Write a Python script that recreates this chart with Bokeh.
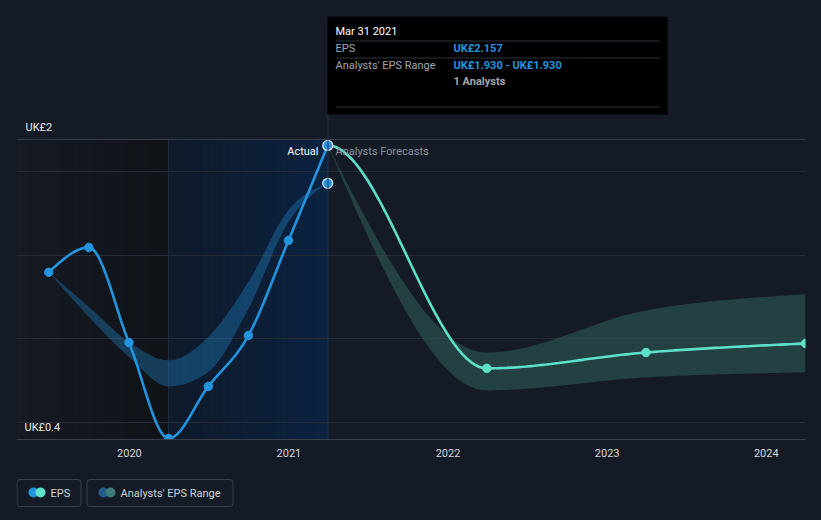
import numpy as np
import pandas as pd
from bokeh.plotting import figure
from bokeh.layouts import column
from bokeh.models import FixedTicker, Span, Label, BoxAnnotation, Range1d, DatetimeTickFormatter
from bokeh.embed import file_html
from bokeh.resources import INLINE
from bokeh.core.properties import value

# ---------------- data ----------------
eps_dates = ["2019-06-30", "2019-09-30", "2019-12-31", "2020-03-31",
             "2020-06-30", "2020-09-30", "2020-12-31", "2021-03-31"]
eps_values = [1.397, 1.546, 0.977, 0.402, 0.714, 1.019, 1.588, 2.157]

past_range_dates = eps_dates
past_range_low = [1.397, 1.13, 0.89, 0.714, 0.80, 1.18, 1.70, 1.930]
past_range_high = [1.397, 1.19, 0.98, 0.870, 1.01, 1.34, 1.77, 1.930]

fc_dates = ["2021-03-31", "2022-03-31", "2023-03-31", "2024-03-31"]
fc_values = [2.157, 0.822, 0.917, 0.971]
fc_low = [2.157, 0.690, 0.768, 0.798]
fc_high = [2.157, 0.917, 1.169, 1.265]

year_ticks = ["2020-01-01", "2021-01-01", "2022-01-01", "2023-01-01", "2024-01-01"]
year_labels = ["2020", "2021", "2022", "2023", "2024"]
y_grid = [0.5, 1.0, 1.5, 2.0]

legend_labels = ["EPS", "Analysts' EPS Range"]

x_start, x_end = "2019-04-17", "2024-03-31"
actual_start, actual_end = "2020-03-31", "2021-03-31"
y_lo, y_plot_top, y_hi = 0.396, 2.193, 2.929

BG = "#151b26"
BLUE = "#2394df"
TEAL = "#5de1ca"
FONT = "Roboto"


def ms(d):
    return (pd.to_datetime(pd.Series(d)).astype("int64") // 10**6).to_numpy().astype(float)


def monotone(xs, ys, start_slope=None, n=40):
    x = np.asarray(xs, float)
    y = np.asarray(ys, float)
    k = len(x)
    h = np.diff(x)
    s = np.diff(y) / h
    t = np.zeros(k)
    sgn = lambda v: -1.0 if v < 0 else 1.0
    for i in range(1, k - 1):
        p_ = (s[i - 1] * h[i] + s[i] * h[i - 1]) / (h[i - 1] + h[i])
        t[i] = (sgn(s[i - 1]) + sgn(s[i])) * min(abs(s[i - 1]), abs(s[i]), 0.5 * abs(p_))
    t[0] = (3 * s[0] - t[1]) / 2 if k > 2 else s[0]
    t[-1] = (3 * s[-1] - t[-2]) / 2 if k > 2 else s[-1]
    if start_slope is not None:
        t[0] = start_slope
    ox, oy = [], []
    for i in range(k - 1):
        u = np.linspace(0, 1, n, endpoint=(i == k - 2))
        h00 = 2 * u**3 - 3 * u**2 + 1
        h10 = u**3 - 2 * u**2 + u
        h01 = -2 * u**3 + 3 * u**2
        h11 = u**3 - u**2
        ox.extend(x[i] + u * h[i])
        oy.extend(h00 * y[i] + h10 * h[i] * t[i] + h01 * y[i + 1] + h11 * h[i] * t[i + 1])
    return np.array(ox), np.array(oy)


def mix(c1, c2, f):
    a = [int(c1[i:i + 2], 16) for i in (1, 3, 5)]
    b = [int(c2[i:i + 2], 16) for i in (1, 3, 5)]
    return "#" + "".join("%02x" % round(a[j] + (b[j] - a[j]) * f) for j in range(3))


# frame geometry in canvas pixels (for screen-unit annotations)
FL, FR, FB = 16, 805, 439
MAIN_H = 464


def sx(px):
    return px - FL


def sy(py):
    return FB - py


p = figure(width=821, height=MAIN_H, x_axis_type="datetime", output_backend="svg",
           toolbar_location=None, y_axis_location=None,
           x_range=Range1d(ms([x_start])[0], ms([x_end])[0]),
           y_range=Range1d(y_lo, y_hi),
           min_border_left=FL, min_border_right=821 - FR, min_border_top=16,
           min_border_bottom=MAIN_H - FB)
p.styles = {"background-color": BG}
p.background_fill_color = BG
p.border_fill_color = BG
p.outline_line_color = None
p.xgrid.visible = False
p.ygrid.ticker = FixedTicker(ticks=y_grid)
p.ygrid.grid_line_color = "#262c37"
p.ygrid.grid_line_width = 1

xa = p.xaxis[0]
tick_ms = list(ms(year_ticks))
xa.ticker = FixedTicker(ticks=tick_ms)
xa.formatter = DatetimeTickFormatter(years="%Y", months="%Y", days="%Y", hours="%Y")
xa.major_label_overrides = {t: l for t, l in zip(tick_ms, year_labels)}
xa.axis_line_color = "#3b414c"
xa.major_tick_line_color = None
xa.minor_tick_line_color = None
xa.major_label_text_color = "#d4d6da"
xa.major_label_text_font = FONT
xa.major_label_text_font_size = "11px"
xa.major_label_standoff = 3

# ---- background regions (gradient strips) ----
xs0, xa0, xa1 = ms([x_start])[0], ms([actual_start])[0], ms([actual_end])[0]
N = 24
edges = np.linspace(xs0, xa0, N + 1)
for i in range(N):
    p.quad(left=edges[i], right=edges[i + 1], bottom=y_lo, top=y_plot_top,
           color=mix("#151a23", "#101318", i / (N - 1)), line_color=None, level="image")
edges = np.linspace(xa0, xa1, N + 1)
for i in range(N):
    p.quad(left=edges[i], right=edges[i + 1], bottom=y_lo, top=y_plot_top,
           color=mix("#0f1a2a", "#0b2241", i / (N - 1)), line_color=None, level="image")

p.add_layout(Span(location=y_plot_top, dimension="width", line_color="#3a404b", line_width=1))
p.segment(x0=[xa0], x1=[xa0], y0=[y_lo], y1=[y_plot_top], line_color="#1b2d47", line_width=1)
p.add_layout(BoxAnnotation(left=sx(327), right=sx(328), bottom=0, top=sy(114),
                           left_units="screen", right_units="screen",
                           bottom_units="screen", top_units="screen",
                           fill_color="#1e3452", fill_alpha=1, line_color=None))

# ---- bands ----
prx = ms(past_range_dates)
bx, blo = monotone(prx, past_range_low)
_, bhi = monotone(prx, past_range_high)
p.varea(x=bx, y1=blo, y2=bhi, fill_color=BLUE, fill_alpha=0.32)

fx = ms(fc_dates)
cx, clo = monotone(fx, fc_low)
_, chi = monotone(fx, fc_high)
p.varea(x=cx, y1=clo, y2=chi, fill_color="#2f5e5b", fill_alpha=0.55)

# ---- lines ----
ex = ms(eps_dates)
lx, ly = monotone(ex, eps_values)
p.line(lx, ly, line_color=BLUE, line_width=2.6)
tx, ty = monotone(fx, fc_values, start_slope=0.0)
p.line(tx, ty, line_color=TEAL, line_width=2.6)

# ---- points ----
p.scatter(ex[:-1], eps_values[:-1], size=8.5, color=BLUE)
p.scatter(fx[1:], fc_values[1:], size=8.5, color=TEAL)
p.scatter([prx[-1]], [past_range_low[-1]], size=10, fill_color=BLUE, line_color="#e8eef5", line_width=1.2)
p.scatter([ex[-1]], [eps_values[-1]], size=10, fill_color=BLUE, line_color="#e8eef5", line_width=1.2)


def label(px, py, text, color, align="left", bold=False, size="11px"):
    p.add_layout(Label(x=sx(px), y=sy(py), x_units="screen", y_units="screen", text=text,
                       text_color=color, text_align=align, text_baseline="middle",
                       text_font=FONT, text_font_size=size,
                       text_font_style="bold" if bold else "normal"))


def box(l, t, r, b, fill=None):
    p.add_layout(BoxAnnotation(left=sx(l), right=sx(r), top=sy(t), bottom=sy(b),
                               left_units="screen", right_units="screen",
                               bottom_units="screen", top_units="screen",
                               fill_color=fill, fill_alpha=1, line_color=None))


label(318, 151, "Actual", "#ffffff", align="right")
label(335, 151, "Analysts Forecasts", "#8b9098")
label(25, 127, "UK£2", "#e6e8eb")
label(24, 427, "UK£0.4", "#e6e8eb")

# ---- tooltip ----
box(327, 16, 667, 114, fill="#000000")
for yy in (40, 57, 106):
    box(335, yy, 659, yy + 1, fill="#303338")
label(335, 31, "Mar 31 2021", "#ffffff")
label(335, 48, "EPS", "#a2a6ad")
label(453, 48, "UK£2.157", BLUE, bold=True)
label(335, 65, "Analysts' EPS Range", "#a2a6ad")
label(453, 65, "UK£1.930 - UK£1.930", BLUE, bold=True)
label(453, 81, "1 Analysts", "#a2a6ad", bold=True)

# ---- legend (separate strip below the chart; its frame is aligned with the
#      main frame, so x is in canvas pixels between FL and FR, y downward) ----
LG_H = 520 - MAIN_H
lg = figure(width=821, height=LG_H, output_backend="svg", toolbar_location=None,
            x_range=Range1d(FL, FR), y_range=Range1d(LG_H, 0),
            min_border_left=FL, min_border_right=821 - FR, min_border_top=0, min_border_bottom=0,
            x_axis_location=None, y_axis_location=None)
lg.styles = {"background-color": BG}
lg.background_fill_color = BG
lg.border_fill_color = BG
lg.outline_line_color = None
lg.grid.visible = False
top0 = 479 - MAIN_H
lg.rect(x=[48.5, 159.5], y=[top0 + 13.5, top0 + 13.5], width=[64, 146], height=[27, 27],
        fill_alpha=0, line_color="#3a404b", line_width=1, border_radius=3)
lg.scatter(x=[33, 40], y=[top0 + 13, top0 + 13], size=10, color=[BLUE, TEAL], line_color=None)
lg.scatter(x=[103, 110], y=[top0 + 13, top0 + 13], size=10, color=["#235b8a", "#3d7a7a"], line_color=None)
lg.text(x=[50, 120], y=[top0 + 14, top0 + 14], text=legend_labels, text_color="#d0d3d8",
        text_font=value(FONT), text_font_size="11px", text_baseline="middle")

layout = column(p, lg, spacing=0, styles={"background-color": BG})
open("out.html", "w").write(file_html(layout, INLINE))
